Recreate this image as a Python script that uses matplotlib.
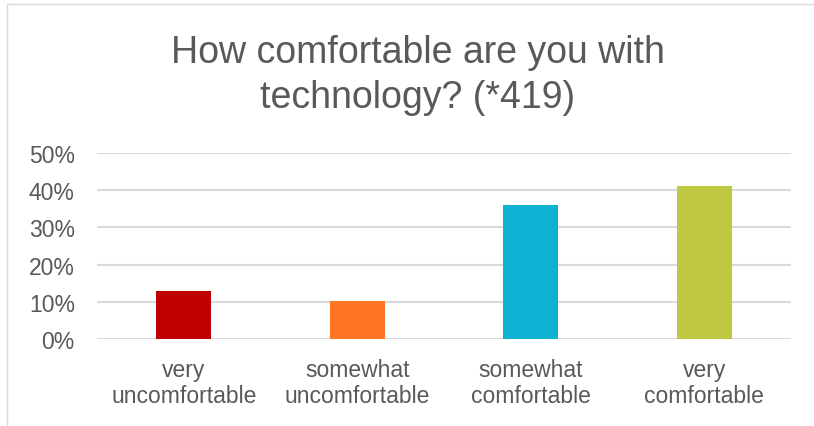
import matplotlib
matplotlib.use("Agg")
import matplotlib.pyplot as plt
from matplotlib.patches import Rectangle
from matplotlib.ticker import PercentFormatter

categories = ["very\nuncomfortable", "somewhat\nuncomfortable", "somewhat\ncomfortable", "very\ncomfortable"]
values = [0.13, 0.102, 0.36, 0.41]
colors = ["#c00000", "#fe7625", "#0db1d2", "#bfc841"]
yticks = [0.0, 0.1, 0.2, 0.3, 0.4, 0.5]
title = "How comfortable are you with\ntechnology? (*419)"

plt.rcParams['font.family'] = ['Liberation Sans', 'DejaVu Sans']
W, H = 814, 427
fig = plt.figure(figsize=(W / 100, H / 100), dpi=100)
fig.patch.set_facecolor("white")

# outer chart frame
fig.patches.append(Rectangle((7 / W, -0.1), 1.2, 1 - 5 / H + 0.1, transform=fig.transFigure,
                             fill=False, edgecolor="#d9d9d9", linewidth=1.0))

ax = fig.add_axes([97 / W, 1 - 340 / H, (791 - 97) / W, (340 - 154) / H])
x = range(len(categories))
ax.bar(x, values, width=0.317, color=colors, zorder=3)
ax.set_xlim(-0.5, 3.5)
ax.set_ylim(0, 0.5)
ax.set_yticks(yticks)
ax.yaxis.set_major_formatter(PercentFormatter(1.0, decimals=0))
ax.set_xticks(list(x))
ax.set_xticklabels(categories, linespacing=1.2)
for s in ax.spines.values():
    s.set_visible(False)
ax.grid(axis="y", color="#d9d9d9", linewidth=1.5, zorder=0)
ax.tick_params(axis="both", length=0, labelsize=16.5, labelcolor="#595959")
ax.tick_params(axis="y", pad=16)
ax.tick_params(axis="x", pad=13.5)

fig.text(418 / W, 1 - 35 / H, title, ha="center", va="top", fontsize=27,
         color="#595959", linespacing=1.32)

fig.savefig("out.png", dpi=100, facecolor="white")
